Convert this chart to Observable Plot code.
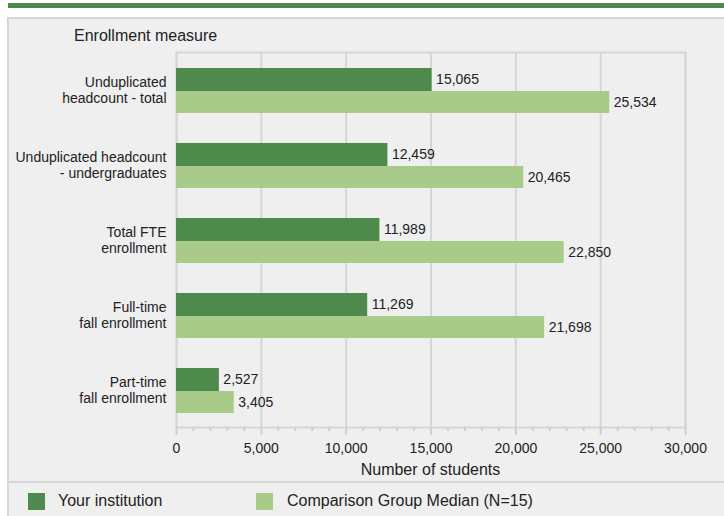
<!DOCTYPE html>
<html>
<head>
<meta charset="utf-8">
<script src="https://cdn.jsdelivr.net/npm/d3@7"></script>
<script src="https://cdn.jsdelivr.net/npm/@observablehq/plot@0.6"></script>
<style>
  html, body { margin: 0; padding: 0; background: #ffffff; width: 724px; height: 516px; overflow: hidden; font-family: "Liberation Sans", Arial, sans-serif; }
  #band { position: absolute; left: 8px; top: 3px; width: 716px; height: 5px; background: #4e8a4b; }
  #panel { position: absolute; left: 7px; top: 17px; width: 717px; height: 499px; background: #efefef; border-top: 2px solid #d6d6d6; border-left: 2px solid #d6d6d6; box-sizing: border-box; }
  #sep { position: absolute; left: 7px; top: 481px; width: 717px; height: 2px; background: #d6d6d6; }
  #chart { position: absolute; left: 0; top: 0; }
  .t { position: absolute; color: #222; font-size: 16px; white-space: nowrap; }
  .sw { position: absolute; width: 17px; height: 17px; }
</style>
</head>
<body>
<div id="band"></div>
<div id="panel"></div>
<div id="sep"></div>
<div id="chart"></div>
<div class="t" id="ylab" style="left:74px; top:27px;">Enrollment measure</div>
<div class="t" id="xlab" style="left:0; width:861px; text-align:center; top:461px;">Number of students</div>
<div class="sw" id="sw1" style="left:28px; top:493px;"></div>
<div class="t" id="lg1" style="left:58px; top:492px;"></div>
<div class="sw" id="sw2" style="left:256px; top:493px;"></div>
<div class="t" id="lg2" style="left:287px; top:492px;"></div>
<script>
const categories = [
  "Unduplicated headcount - total",
  "Unduplicated headcount - undergraduates",
  "Total FTE enrollment",
  "Full-time fall enrollment",
  "Part-time fall enrollment"
];
const categoryLabels = [
  "Unduplicated\nheadcount - total",
  "Unduplicated headcount\n- undergraduates",
  "Total FTE\nenrollment",
  "Full-time\nfall enrollment",
  "Part-time\nfall enrollment"
];
const seriesNames = ["Your institution", "Comparison Group Median (N=15)"];
const institution = [15065, 12459, 11989, 11269, 2527];
const comparison = [25534, 20465, 22850, 21698, 3405];
const majorTicks = [0, 5000, 10000, 15000, 20000, 25000, 30000];
const minorTicks = d3.range(0, 30001, 1000).filter(v => v % 5000 !== 0);

const colors = ["#4e8a4b", "#a9cb89"];

const instData = categories.map((c, i) => ({cat: c, value: institution[i]}));
const compData = categories.map((c, i) => ({cat: c, value: comparison[i]}));
const labelOf = new Map(categories.map((c, i) => [c, categoryLabels[i]]));
const fmt = d3.format(",");

const plot = Plot.plot({
  width: 724,
  height: 482,
  marginLeft: 176,
  marginRight: 39,
  marginTop: 52,
  marginBottom: 55,
  style: {background: "transparent", fontFamily: "'Liberation Sans', Arial, sans-serif", fontSize: "14px", color: "#222"},
  x: {domain: [0, 30000]},
  y: {domain: categories, padding: 0},
  marks: [
    Plot.gridX(majorTicks, {stroke: "#d6d6d6", strokeOpacity: 1, strokeWidth: 2}),
    Plot.frame({stroke: "#d6d6d6", strokeWidth: 2}),
    Plot.barX(instData, {x: "value", y: "cat", fill: colors[0], insetTop: 16, insetBottom: 36}),
    Plot.barX(compData, {x: "value", y: "cat", fill: colors[1], insetTop: 39, insetBottom: 14}),
    Plot.text(instData, {x: "value", y: "cat", text: d => fmt(d.value), dx: 4, dy: -10, textAnchor: "start", fill: "#222", fontSize: 14}),
    Plot.text(compData, {x: "value", y: "cat", text: d => fmt(d.value), dx: 4, dy: 12.5, textAnchor: "start", fill: "#222", fontSize: 14}),
    Plot.axisY({tickSize: 0, tickPadding: 10, label: null, tickFormat: d => labelOf.get(d), lineHeight: 1.15, fill: "#222", fontSize: 14}),
    Plot.axisX({ticks: minorTicks, tickSize: 4, tickFormat: () => "", label: null, stroke: "#cfcfcf", strokeWidth: 2}),
    Plot.axisX({ticks: majorTicks, tickSize: 8, tickPadding: 8, tickFormat: fmt, label: null, stroke: "#cfcfcf", strokeWidth: 2, fill: "#222", fontSize: 14})
  ]
});
document.getElementById("chart").appendChild(plot);
document.getElementById("sw1").style.background = colors[0];
document.getElementById("sw2").style.background = colors[1];
document.getElementById("lg1").textContent = seriesNames[0];
document.getElementById("lg2").textContent = seriesNames[1];
</script>
</body>
</html>
